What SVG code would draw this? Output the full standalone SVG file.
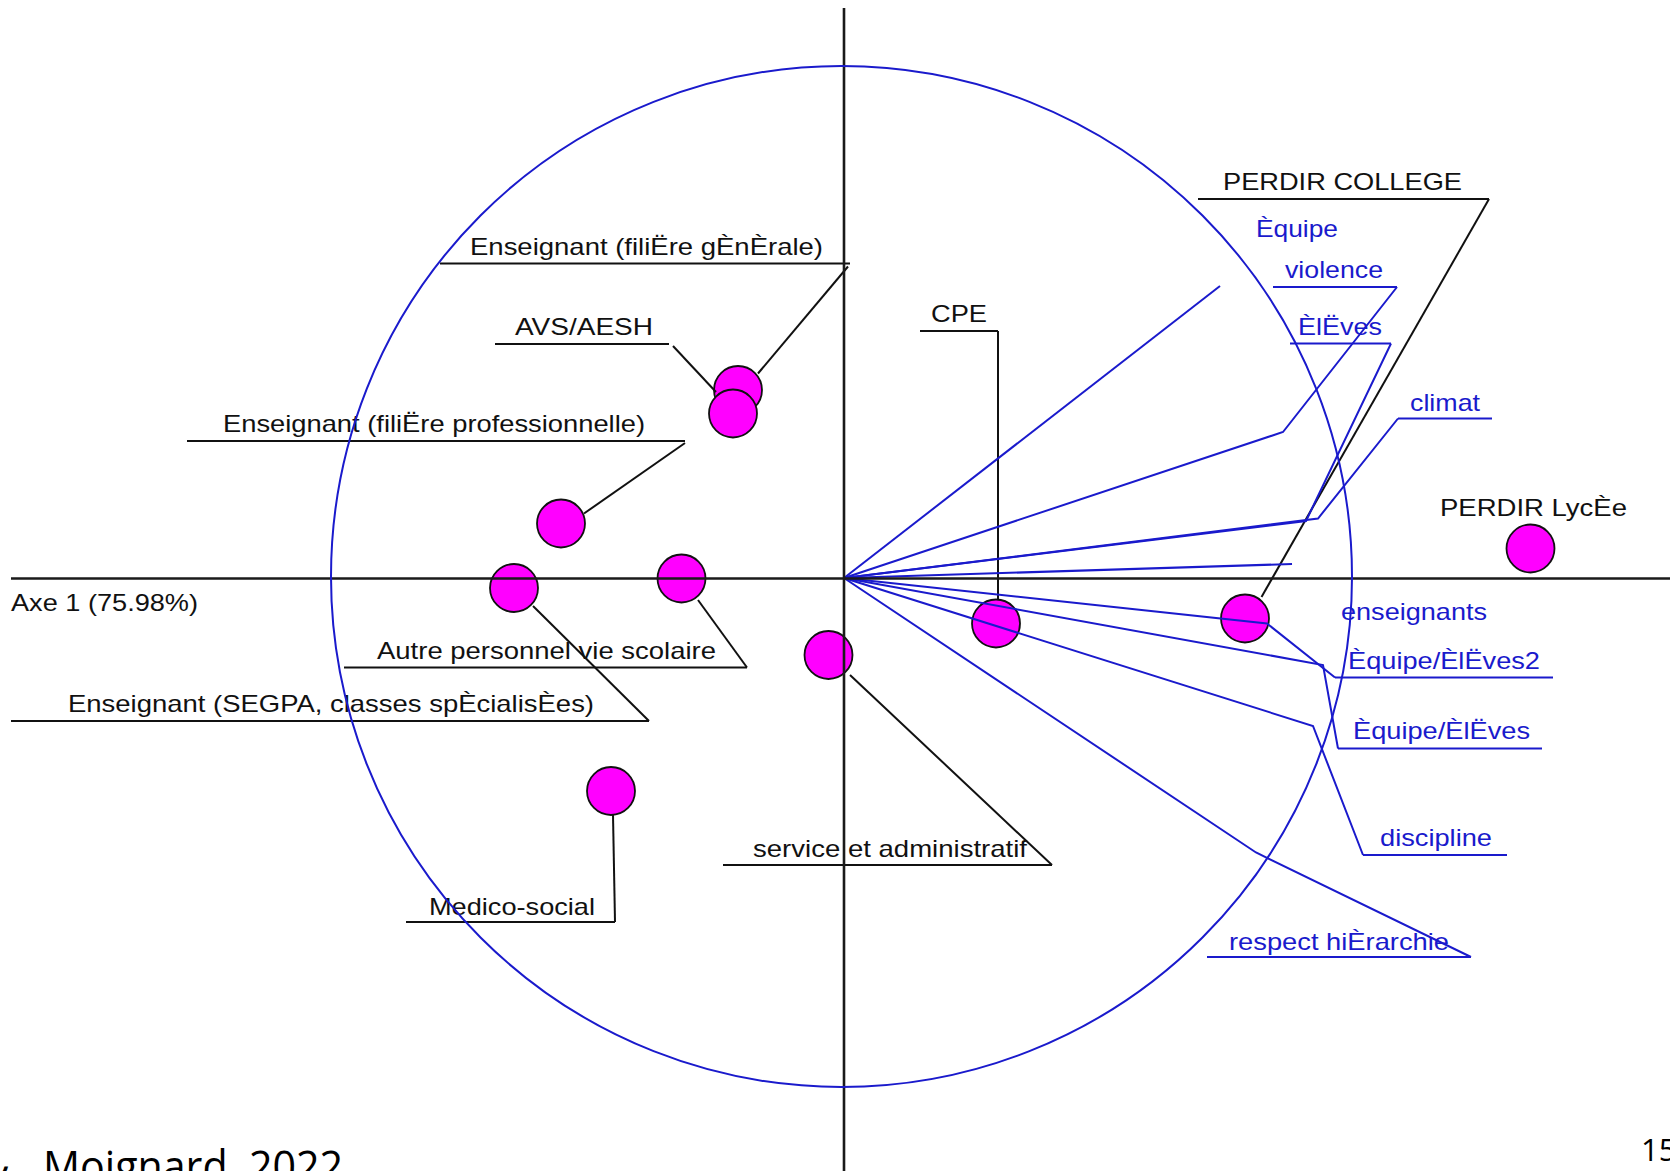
<svg xmlns="http://www.w3.org/2000/svg" width="1670" height="1171" viewBox="0 0 1670 1171">
<style>
  .pt { fill: #ff00ff; stroke: #111; stroke-width: 1.8; }
  .lb { font-family: "Liberation Sans", Arial, sans-serif; font-size: 24px; fill: #111; }
  .lbb { font-family: "Liberation Sans", Arial, sans-serif; font-size: 24px; fill: #1a1acc; }
  .ul { stroke: #111; stroke-width: 2.2; fill: none; }
  .ulb { stroke: #1a1acc; stroke-width: 2.2; fill: none; }
  .ld { stroke: #111; stroke-width: 2; fill: none; }
  .ldb { stroke: #1a1acc; stroke-width: 2; fill: none; stroke-linejoin: miter; }
  .ax { stroke: #1a1a1a; stroke-width: 2.6; }
  .slide { font-family: "Open Sans", "Noto Sans", sans-serif; fill: #000; }
</style>
<rect width="1670" height="1171" fill="#fff"/>

<g id="node-generale">
  <circle class="pt" cx="738" cy="390" r="24"/>
  <line class="ul" x1="440" y1="263.5" x2="850" y2="263.5"/>
  <text class="lb" x="470" y="255" textLength="353" lengthAdjust="spacingAndGlyphs">Enseignant (filiËre gÈnÈrale)</text>
</g>
<g id="node-avs">
  <circle class="pt" cx="733" cy="413.5" r="24"/>
  <line class="ul" x1="495" y1="344" x2="669" y2="344"/>
  <text class="lb" x="515" y="335" textLength="138" lengthAdjust="spacingAndGlyphs">AVS/AESH</text>
</g>
<g id="node-professionnelle">
  <circle class="pt" cx="561" cy="523.5" r="24"/>
  <line class="ul" x1="187" y1="441" x2="685" y2="441"/>
  <text class="lb" x="223" y="432" textLength="422" lengthAdjust="spacingAndGlyphs">Enseignant (filiËre professionnelle)</text>
</g>
<g id="node-segpa">
  <circle class="pt" cx="514" cy="588" r="24"/>
  <line class="ul" x1="11" y1="721" x2="649" y2="721"/>
  <text class="lb" x="68" y="711.5" textLength="526" lengthAdjust="spacingAndGlyphs">Enseignant (SEGPA, classes spÈcialisÈes)</text>
</g>
<g id="node-autre">
  <circle class="pt" cx="681.5" cy="578.5" r="24"/>
  <line class="ul" x1="344" y1="667.5" x2="747" y2="667.5"/>
  <text class="lb" x="377" y="659" textLength="339" lengthAdjust="spacingAndGlyphs">Autre personnel vie scolaire</text>
</g>
<g id="node-service">
  <circle class="pt" cx="828.5" cy="655" r="24"/>
  <line class="ul" x1="723" y1="865" x2="1052" y2="865"/>
  <text class="lb" x="753" y="857" textLength="274" lengthAdjust="spacingAndGlyphs">service et administratif</text>
</g>
<g id="node-medico">
  <circle class="pt" cx="611" cy="791" r="24"/>
  <line class="ul" x1="406" y1="922" x2="615" y2="922"/>
  <text class="lb" x="429" y="915" textLength="166" lengthAdjust="spacingAndGlyphs">Medico-social</text>
</g>
<g id="node-cpe">
  <circle class="pt" cx="996" cy="623.5" r="24"/>
  <line class="ul" x1="920" y1="331" x2="998" y2="331"/>
  <text class="lb" x="931" y="322" textLength="56" lengthAdjust="spacingAndGlyphs">CPE</text>
</g>
<g id="node-perdir-college">
  <circle class="pt" cx="1245" cy="618.5" r="24"/>
  <line class="ul" x1="1198" y1="199" x2="1489" y2="199"/>
  <text class="lb" x="1223" y="190" textLength="239" lengthAdjust="spacingAndGlyphs">PERDIR COLLEGE</text>
</g>
<g id="node-perdir-lycee">
  <circle class="pt" cx="1530.5" cy="548.5" r="24"/>
  <text class="lb" x="1440" y="516" textLength="187" lengthAdjust="spacingAndGlyphs">PERDIR LycÈe</text>
</g>

<g id="var-equipe">
  <text class="lbb" x="1256" y="237" textLength="82" lengthAdjust="spacingAndGlyphs">Èquipe</text>
</g>
<g id="var-violence">
  <line class="ulb" x1="1273" y1="287" x2="1397" y2="287"/>
  <text class="lbb" x="1285" y="278" textLength="98" lengthAdjust="spacingAndGlyphs">violence</text>
</g>
<g id="var-eleves">
  <line class="ulb" x1="1290" y1="343.5" x2="1391" y2="343.5"/>
  <text class="lbb" x="1298" y="335" textLength="84" lengthAdjust="spacingAndGlyphs">ÈlËves</text>
</g>
<g id="var-climat">
  <line class="ulb" x1="1398" y1="418.5" x2="1492" y2="418.5"/>
  <text class="lbb" x="1410" y="411" textLength="70" lengthAdjust="spacingAndGlyphs">climat</text>
</g>
<g id="var-enseignants">
  <text class="lbb" x="1341" y="620" textLength="146" lengthAdjust="spacingAndGlyphs">enseignants</text>
</g>
<g id="var-equipe-eleves2">
  <line class="ulb" x1="1335" y1="677.5" x2="1553" y2="677.5"/>
  <text class="lbb" x="1348" y="669" textLength="192" lengthAdjust="spacingAndGlyphs">Èquipe/ÈlËves2</text>
</g>
<g id="var-equipe-eleves">
  <line class="ulb" x1="1338" y1="748.5" x2="1542" y2="748.5"/>
  <text class="lbb" x="1353" y="739" textLength="177" lengthAdjust="spacingAndGlyphs">Èquipe/ÈlËves</text>
</g>
<g id="var-discipline">
  <line class="ulb" x1="1363" y1="855" x2="1507" y2="855"/>
  <text class="lbb" x="1380" y="846" textLength="112" lengthAdjust="spacingAndGlyphs">discipline</text>
</g>
<g id="var-respect">
  <line class="ulb" x1="1207" y1="957" x2="1471" y2="957"/>
  <text class="lbb" x="1229" y="949.5" textLength="220" lengthAdjust="spacingAndGlyphs">respect hiÈrarchie</text>
</g>

<g id="connectors">
  <line class="ld" x1="848" y1="266.5" x2="758" y2="373.5"/>
  <line class="ld" x1="673" y1="346" x2="716" y2="392"/>
  <line class="ld" x1="685" y1="443" x2="584" y2="513.5"/>
  <line class="ld" x1="533" y1="606" x2="649" y2="721"/>
  <line class="ld" x1="698" y1="600" x2="747" y2="667.5"/>
  <line class="ld" x1="850" y1="675" x2="1052" y2="865"/>
  <line class="ld" x1="613" y1="815" x2="615" y2="922"/>
  <line class="ld" x1="998" y1="331" x2="998" y2="599.5"/>
  <line class="ld" x1="1489" y1="199" x2="1261.5" y2="597"/>

  <polyline class="ldb" points="844,578 1220,286"/>
  <polyline class="ldb" points="844,578 1283,432 1397,287"/>
  <polyline class="ldb" points="844,578 1306,521 1391,343.5"/>
  <polyline class="ldb" points="844,578 1318,518.5 1398,418.5"/>
  <polyline class="ldb" points="844,578 1292,564"/>
  <polyline class="ldb" points="844,578 1267,623.5 1335,677.5"/>
  <polyline class="ldb" points="844,578 1323,665 1338,748.5"/>
  <polyline class="ldb" points="844,578 1313,726 1363,855"/>
  <polyline class="ldb" points="844,578 1256,852.5 1471,957"/>
</g>

<g id="frame">
  <line class="ax" x1="11" y1="578.5" x2="1670" y2="578.5"/>
  <line class="ax" x1="844" y1="8" x2="844" y2="1171"/>
  <ellipse cx="841.5" cy="576.5" rx="510.5" ry="510.5" fill="none" stroke="#1a1acc" stroke-width="2"/>
  <text class="lb" x="11" y="610.5" textLength="187" lengthAdjust="spacingAndGlyphs">Axe 1 (75.98%)</text>
</g>

<g id="slide-footer">
  <text class="slide" y="1182" font-size="44"><tspan x="-22">&amp;</tspan><tspan x="43" textLength="300" lengthAdjust="spacingAndGlyphs">Moignard, 2022</tspan></text>
  <text class="slide" x="1641" y="1161" font-size="31">15</text>
</g>
</svg>
